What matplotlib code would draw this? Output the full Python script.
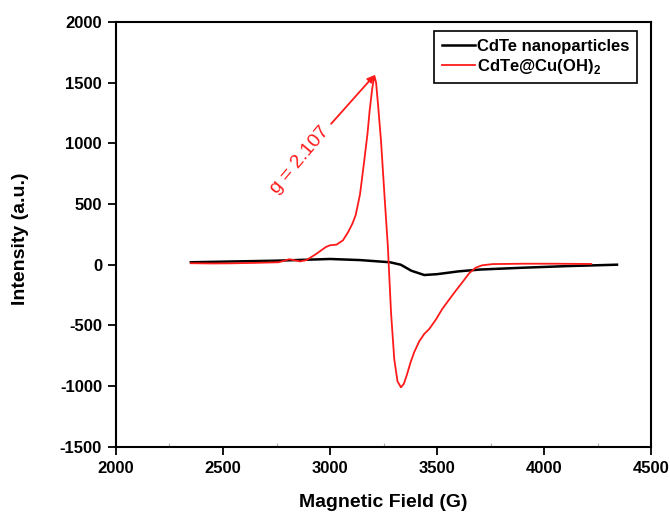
import matplotlib
matplotlib.use("Agg")
import matplotlib.pyplot as plt
from matplotlib.ticker import MultipleLocator

plt.rcParams["font.family"] = ["Liberation Sans", "DejaVu Sans"]
plt.rcParams["mathtext.fontset"] = "custom"
plt.rcParams["mathtext.rm"] = "Liberation Sans"
plt.rcParams["mathtext.bf"] = "Liberation Sans:bold"
plt.rcParams["axes.unicode_minus"] = False

# EPR spectra (field in G, intensity in a.u.)
field_cdte = [2350, 2500, 2750, 3000, 3140, 3280, 3330, 3380, 3440, 3500,
              3600, 3700, 3900, 4100, 4340]
int_cdte = [20, 25, 33, 47, 38, 20, 0, -50, -85, -78,
            -55, -40, -25, -12, 0]

field_cu = [2350, 2450, 2530, 2650, 2760, 2810, 2860, 2890, 2935, 2980,
            3000, 3030, 3060, 3085, 3105, 3120, 3140, 3160, 3175, 3185,
            3197, 3207, 3215, 3225, 3238, 3255, 3270, 3285, 3300, 3315,
            3331, 3345, 3360, 3375, 3393, 3417, 3440, 3463, 3495, 3524,
            3555, 3587, 3620, 3650, 3680, 3710, 3760, 3900, 4050, 4220]
int_cu = [12, 10, 11, 15, 20, 45, 27, 38, 88, 145,
          160, 165, 200, 270, 340, 410, 580, 860, 1080, 1270,
          1450, 1555, 1500, 1300, 1020, 550, 150, -400, -780, -960,
          -1010, -980, -900, -810, -720, -630, -570, -530, -450, -365,
          -290, -215, -140, -70, -25, -5, 5, 8, 8, 6]

RED = "#ff1a1a"

fig = plt.figure(figsize=(6.7, 5.19), dpi=100)
ax = fig.add_axes([0.173, 0.139, 0.799, 0.819])

ax.plot(field_cdte, int_cdte, color="black", lw=1.8, label="CdTe nanoparticles")
ax.plot(field_cu, int_cu, color=RED, lw=1.3, label=r"CdTe@Cu(OH)$_{\mathbf{2}}$")

ax.set_xlim(2000, 4500)
ax.set_ylim(-1500, 2000)
ax.xaxis.set_major_locator(MultipleLocator(500))
ax.yaxis.set_major_locator(MultipleLocator(500))
ax.xaxis.set_minor_locator(MultipleLocator(250))

for s in ax.spines.values():
    s.set_linewidth(1.5)

ax.tick_params(axis="both", which="major", direction="out", length=6, width=1.3,
               labelsize=12, pad=4)
ax.tick_params(axis="x", which="minor", direction="in", length=3, width=0.8,
               color="#aaaaaa")
ax.tick_params(axis="y", which="minor", left=False)
for lab in ax.get_xticklabels() + ax.get_yticklabels():
    lab.set_fontweight("bold")

ax.set_xlabel("Magnetic Field (G)", fontsize=14, fontweight="bold")
ax.set_ylabel("Intensity (a.u.)", fontsize=14, fontweight="bold")
ax.xaxis.set_label_coords(0.5, -0.11)
ax.yaxis.set_label_coords(-0.163, 0.49)

# g-value annotation
ax.annotate("", xy=(3207, 1560), xytext=(3005, 1160),
            arrowprops=dict(arrowstyle="-|>", color=RED, lw=1.3,
                            mutation_scale=10, shrinkA=0, shrinkB=0))
ax.text(2857, 858, "g = 2.107", color=RED, fontsize=14, rotation=50,
        ha="center", va="center", rotation_mode="anchor")

leg = ax.legend(loc="upper right", bbox_to_anchor=(0.973, 0.978),
                borderaxespad=0, frameon=True, fancybox=False, framealpha=1,
                edgecolor="black", handlelength=2.0, handletextpad=0.1,
                borderpad=0.45, labelspacing=0.2,
                prop={"size": 12, "weight": "bold"})
leg.get_frame().set_linewidth(1.2)

fig.savefig("out.png", dpi=100)
